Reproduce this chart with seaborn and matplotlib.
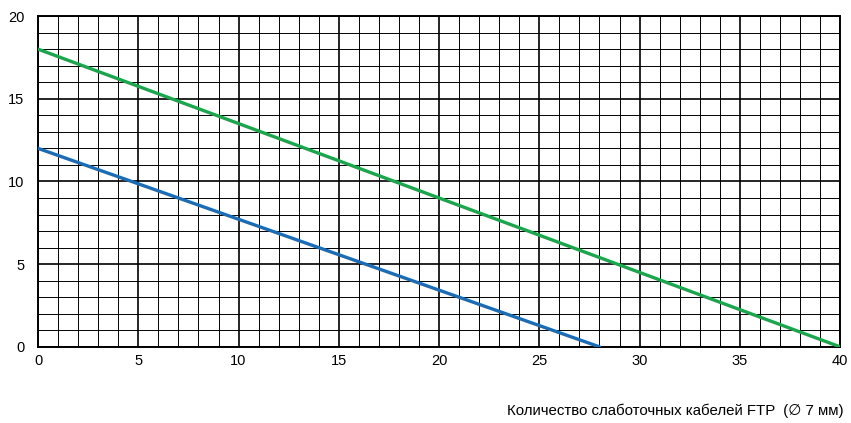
"""Cable count vs. load chart: two straight limit lines on a fine grid."""

import matplotlib
matplotlib.use("Agg")
import matplotlib.pyplot as plt
import pandas as pd
import seaborn as sns
from matplotlib.ticker import MultipleLocator

# Data
green_x = [0, 40]
green_y = [18, 0]
blue_x = [0, 28]
blue_y = [12, 0]
x_ticks = [0, 5, 10, 15, 20, 25, 30, 35, 40]
y_ticks = [0, 5, 10, 15, 20]
x_label = "Количество слаботочных кабелей FTP  (\u2205 7 мм)"

sns.set_style("white")
plt.rcParams["font.family"] = ["Liberation Sans", "DejaVu Sans"]
plt.rcParams["text.color"] = "black"
plt.rcParams["xtick.color"] = "black"
plt.rcParams["ytick.color"] = "black"

df = pd.concat([
    pd.DataFrame({"x": green_x, "y": green_y, "s": "green"}),
    pd.DataFrame({"x": blue_x, "y": blue_y, "s": "blue"}),
])

fig = plt.figure(figsize=(8.51, 4.23), dpi=100)
ax = fig.add_axes([0.0447, 0.180, 0.9425, 0.782])

sns.lineplot(
    data=df, x="x", y="y", hue="s",
    palette={"green": "#1ba54c", "blue": "#1b6cb4"},
    linewidth=2.4, legend=False, ax=ax, zorder=5,
)

ax.set_xlim(0, 40)
ax.set_ylim(0, 20)
ax.set_xticks(x_ticks)
ax.set_yticks(y_ticks)
ax.xaxis.set_minor_locator(MultipleLocator(1))
ax.yaxis.set_minor_locator(MultipleLocator(1))
ax.grid(which="major", color="black", linewidth=1.2)
ax.grid(which="minor", color="black", linewidth=0.7)
ax.tick_params(which="both", length=0, labelsize=10.5, colors="black")
ax.tick_params(axis="x", pad=5)
ax.tick_params(axis="y", pad=10)
for sp in ax.spines.values():
    sp.set_color("black")
    sp.set_linewidth(1.4)

ax.set_ylabel("")
ax.set_xlabel("")
fig.text(0.991, 0.012, x_label, ha="right", va="bottom", fontsize=10.8, color="black")

fig.savefig("out.png", dpi=100)
